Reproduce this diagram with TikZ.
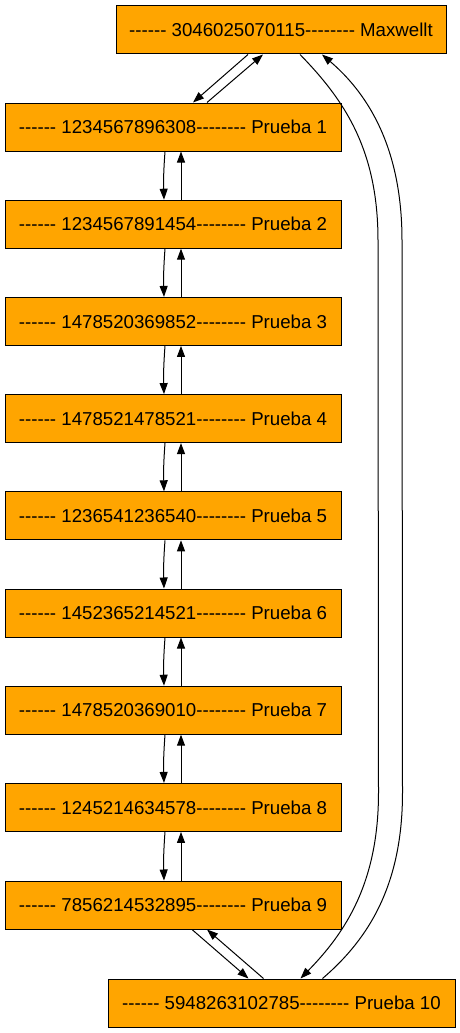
\documentclass[tikz,border=0pt]{standalone}
\usepackage{fontspec}
\setmainfont{Liberation Sans}[Ligatures=TeXOff]
\usetikzlibrary{arrows.meta}
\definecolor{nodeorange}{HTML}{FFA500}
\tikzset{
  box/.style={draw=black, fill=nodeorange, line width=1pt, minimum height=48pt, inner sep=0pt, font=\fontsize{18.67}{22}\selectfont},
  arr/.style={draw=black, line width=1pt, -{Triangle[length=11pt,width=8pt]}},
}
\begin{document}
\begin{tikzpicture}[x=1pt,y=-1pt]
\useasboundingbox (0,0) rectangle (460,1033);
\node[box, minimum width=330pt] (m) at (281,30) {------ 3046025070115-------- Maxwellt};
\node[box, minimum width=336pt] (p1) at (173,127) {------ 1234567896308-------- Prueba 1};
\node[box, minimum width=336pt] (p2) at (173,224.2) {------ 1234567891454-------- Prueba 2};
\node[box, minimum width=336pt] (p3) at (173,321.4) {------ 1478520369852-------- Prueba 3};
\node[box, minimum width=336pt] (p4) at (173,418.6) {------ 1478521478521-------- Prueba 4};
\node[box, minimum width=336pt] (p5) at (173,515.8) {------ 1236541236540-------- Prueba 5};
\node[box, minimum width=336pt] (p6) at (173,613) {------ 1452365214521-------- Prueba 6};
\node[box, minimum width=336pt] (p7) at (173,710.2) {------ 1478520369010-------- Prueba 7};
\node[box, minimum width=336pt] (p8) at (173,807.4) {------ 1245214634578-------- Prueba 8};
\node[box, minimum width=336pt] (p9) at (173,905) {------ 7856214532895-------- Prueba 9};
\node[box, minimum width=347pt] (p10) at (281.5,1003) {------ 5948263102785-------- Prueba 10};

\draw[arr] ([xshift=-33pt]m.south) -- ([xshift=20pt]p1.north);
\draw[arr] ([xshift=34pt]p1.north) -- ([xshift=-18pt]m.south);

\foreach \i/\j in {1/2,2/3,3/4,4/5,5/6,6/7,7/8,8/9}{
  \draw[arr] ([xshift=-8pt]p\i.south) to[bend right=3] ([xshift=-9pt]p\j.north);
  \draw[arr] ([xshift=8pt]p\j.north) -- ([xshift=8pt]p\i.south);
}

\draw[arr] ([xshift=19pt]p9.south) -- ([xshift=-33pt]p10.north);
\draw[arr] ([xshift=-18pt]p10.north) -- ([xshift=34pt]p9.south);

\draw[arr] ([xshift=19pt]m.south) .. controls +(45,46) and +(0,-90) .. ([xshift=97pt,yshift=-186pt]m.south)
  -- ([xshift=97pt,yshift=186pt]p10.north) .. controls +(0,90) and +(45,-46) .. ([xshift=19pt]p10.north);
\draw[arr] ([xshift=41pt]p10.north) .. controls +(48,-41) and +(0,90) .. ([xshift=121pt,yshift=186pt]p10.north)
  -- ([xshift=121pt,yshift=-186pt]m.south) .. controls +(0,-90) and +(48,41) .. ([xshift=41pt]m.south);
\end{tikzpicture}
\end{document}
